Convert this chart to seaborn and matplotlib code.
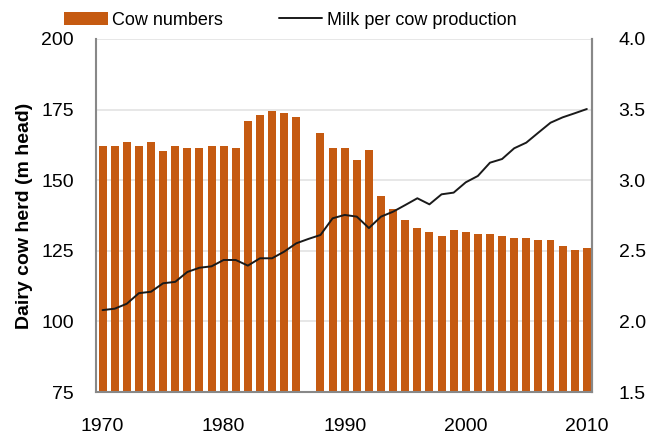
import numpy as np
import pandas as pd
import matplotlib
matplotlib.use("Agg")
import matplotlib.pyplot as plt
import seaborn as sns
from matplotlib.patches import Patch
from matplotlib.lines import Line2D
from matplotlib.ticker import FormatStrFormatter

years = list(range(1970, 2011))
cow_numbers = [162, 162, 163.4, 162, 163.4, 160.5, 162, 161.3, 161.3, 162,
               162, 161.3, 171.1, 173.2, 174.6, 173.9, 172.5, np.nan, 166.8, 161.3,
               161.3, 157.0, 160.6, 144.4, 139.7, 136.0, 133.2, 131.8, 130.4, 132.5,
               131.8, 131.1, 131.1, 130.4, 129.6, 129.6, 128.9, 128.9, 126.8, 125.4,
               126.1]
milk_per_cow = [2.08, 2.09, 2.125, 2.20, 2.21, 2.27, 2.28, 2.35, 2.38, 2.39,
                2.435, 2.435, 2.395, 2.447, 2.447, 2.494, 2.553, 2.584, 2.612, 2.73,
                2.754, 2.742, 2.661, 2.742, 2.777, 2.824, 2.872, 2.829, 2.90, 2.912,
                2.985, 3.03, 3.124, 3.15, 3.226, 3.266, 3.337, 3.407, 3.445, 3.474,
                3.504]
left_ticks = [75, 100, 125, 150, 175, 200]
right_ticks = [1.5, 2.0, 2.5, 3.0, 3.5, 4.0]
x_ticks = [1970, 1980, 1990, 2000, 2010]

df = pd.DataFrame({"year": years, "cows": cow_numbers, "milk": milk_per_cow})

sns.set_style("white")
plt.rcParams["font.family"] = ["Liberation Sans", "DejaVu Sans"]
plt.rcParams["text.color"] = "black"
plt.rcParams["xtick.color"] = "black"
plt.rcParams["ytick.color"] = "black"
plt.rcParams["axes.labelcolor"] = "black"

bar_color = "#C55A11"
fig = plt.figure(figsize=(6.48, 4.38), dpi=100)
ax = fig.add_axes([0.148, 0.105, 0.766, 0.806])

sns.barplot(data=df.dropna(subset=["cows"]), x="year", y="cows", native_scale=True,
            color=bar_color, saturation=1, width=0.66, ax=ax, linewidth=0)
ax.set_ylim(75, 200)
ax.set_xlim(1969.45, 2010.45)
ax.set_yticks(left_ticks)
ax.set_xticks(x_ticks)
ax.set_xticklabels([str(t) for t in x_ticks])
ax.grid(axis="y", color="#e3e3e3", linewidth=1.2)
ax.set_axisbelow(True)
ax.set_ylabel("Dairy cow herd (m head)", fontsize=14, fontweight="bold", labelpad=6)
ax.set_xlabel("")
ax.tick_params(axis="y", labelsize=14, length=0, pad=16)
ax.tick_params(axis="x", labelsize=14, length=0, pad=19)
for s in ["left", "bottom", "right"]:
    ax.spines[s].set_visible(True)
    ax.spines[s].set_color("#888888")
    ax.spines[s].set_linewidth(1.5)
ax.spines["top"].set_visible(False)

ax2 = ax.twinx()
sns.lineplot(data=df, x="year", y="milk", color="#1a1a1a", linewidth=1.4, ax=ax2)
ax2.set_ylim(1.5, 4.0)
ax2.set_yticks(right_ticks)
ax2.yaxis.set_major_formatter(FormatStrFormatter("%.1f"))
ax2.set_ylabel("")
ax2.set_xlabel("")
ax2.tick_params(axis="y", labelsize=14, length=0, pad=19)
ax2.grid(False)
for s in ["left", "top", "bottom"]:
    ax2.spines[s].set_visible(False)
ax2.spines["right"].set_color("#888888")
ax2.spines["right"].set_linewidth(1.5)
ax2.set_xlim(1969.45, 2010.45)

handles = [Patch(facecolor=bar_color, edgecolor="none"),
           Line2D([0], [0], color="#1a1a1a", linewidth=1.4)]
fig.legend(handles, ["Cow numbers", "Milk per cow production"], loc="upper left",
           bbox_to_anchor=(0.088, 0.99), ncol=2, frameon=False, fontsize=13,
           handlelength=2.4, handleheight=0.7, handletextpad=0.25, columnspacing=3.1,
           borderaxespad=0)

fig.savefig("out.png", dpi=100)
